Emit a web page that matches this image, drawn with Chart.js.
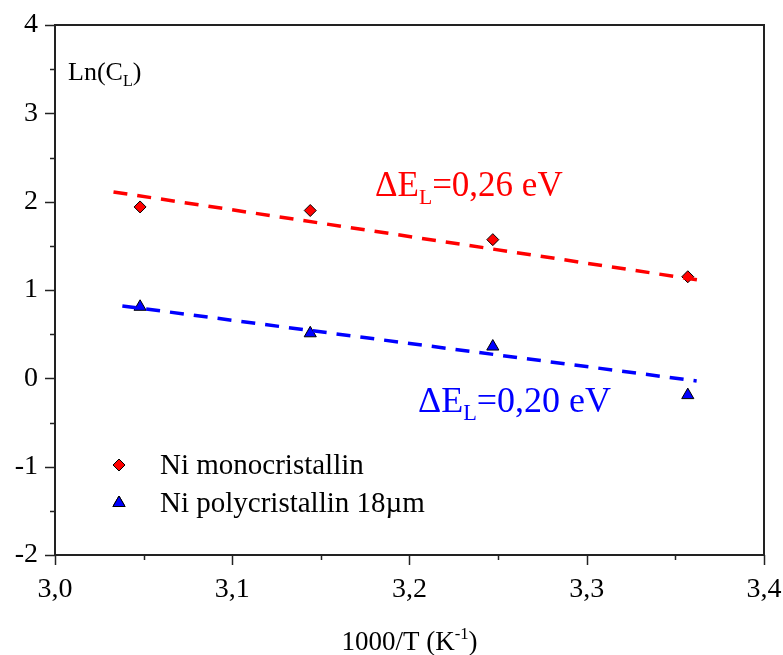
<!DOCTYPE html>
<html>
<head>
<meta charset="utf-8">
<script src="https://cdn.jsdelivr.net/npm/chart.js@4"></script>
<style>
  html, body { margin: 0; padding: 0; background: #fff; }
  #wrap { width: 783px; height: 655px; }
</style>
</head>
<body>
<div id="wrap"><canvas id="LnChart" width="783" height="655"></canvas></div>
<script>
// measured points
const invT = [3.048, 3.144, 3.247, 3.357];
const lnMono = [1.94, 1.90, 1.57, 1.15];
const lnPoly = [0.81, 0.51, 0.36, -0.19];

// fitted lines (end points)
const fitMonoX = [3.033, 3.364];
const fitMonoY = [2.11, 1.11];
const fitPolyX = [3.038, 3.362];
const fitPolyY = [0.82, -0.03];

const xTicks = [3.0, 3.1, 3.2, 3.3, 3.4];
const yTicks = [-2, -1, 0, 1, 2, 3, 4];

const serif = '"Liberation Serif", "DejaVu Serif", serif';

function toPoints(xs, ys) {
  return xs.map((x, i) => ({ x: x, y: ys[i] }));
}

// draws text runs with sub/superscripts, starting at x
function drawRuns(ctx, x, y, runs, size, color) {
  ctx.fillStyle = color;
  ctx.textBaseline = 'alphabetic';
  ctx.textAlign = 'left';
  runs.forEach(r => {
    let s = size, dy = 0;
    if (r.sub) { s = size * 0.62; dy = size * 0.22; }
    if (r.sup) { s = size * 0.62; dy = -size * 0.42; }
    ctx.font = s + 'px ' + serif;
    ctx.fillText(r.t, x, y + dy);
    x += ctx.measureText(r.t).width;
  });
  return x;
}

function runsWidth(ctx, runs, size) {
  let w = 0;
  runs.forEach(r => {
    const s = (r.sub || r.sup) ? size * 0.62 : size;
    ctx.font = s + 'px ' + serif;
    w += ctx.measureText(r.t).width;
  });
  return w;
}

const framePlugin = {
  id: 'frame',
  afterDraw(chart) {
    const ctx = chart.ctx;
    const a = chart.chartArea;
    const xs = chart.scales.x, ys = chart.scales.y;
    ctx.save();
    ctx.strokeStyle = '#222';
    ctx.lineWidth = 2;
    ctx.strokeRect(a.left, a.top, a.right - a.left, a.bottom - a.top);

    ctx.lineWidth = 1.5;
    // x ticks, major + minor, pointing out
    for (let v = 3.0; v <= 3.4001; v += 0.05) {
      const px = Math.round(xs.getPixelForValue(v)) + 0.5;
      const major = Math.abs(v * 10 - Math.round(v * 10)) < 0.01;
      ctx.beginPath();
      ctx.moveTo(px, a.bottom);
      ctx.lineTo(px, a.bottom + (major ? 10 : 5));
      ctx.stroke();
    }
    for (let v = -2; v <= 4.001; v += 0.5) {
      const py = Math.round(ys.getPixelForValue(v)) + 0.5;
      const major = Math.abs(v - Math.round(v)) < 0.01;
      ctx.beginPath();
      ctx.moveTo(a.left, py);
      ctx.lineTo(a.left - (major ? 10 : 5), py);
      ctx.stroke();
    }

    // tick labels
    ctx.fillStyle = '#000';
    ctx.font = '28px ' + serif;
    ctx.textAlign = 'center';
    ctx.textBaseline = 'alphabetic';
    xTicks.forEach(v => {
      ctx.fillText(v.toFixed(1).replace('.', ','), xs.getPixelForValue(v), a.bottom + 42);
    });
    ctx.textAlign = 'right';
    ctx.textBaseline = 'middle';
    yTicks.forEach(v => {
      ctx.fillText(String(v), a.left - 17, ys.getPixelForValue(v));
    });

    // axis titles
    const xTitle = [{ t: '1000/T (K' }, { t: '-1', sup: true }, { t: ')' }];
    const w = runsWidth(ctx, xTitle, 27);
    drawRuns(ctx, (a.left + a.right) / 2 - w / 2, 650, xTitle, 27, '#000');
    drawRuns(ctx, 68, 80, [{ t: 'Ln(C' }, { t: 'L', sub: true }, { t: ')' }], 26, '#000');

    // slope annotations
    drawRuns(ctx, 375, 196, [{ t: '\u0394E' }, { t: 'L', sub: true }, { t: '=0,26 eV' }], 35, '#ff0000');
    drawRuns(ctx, 418, 412, [{ t: '\u0394E' }, { t: 'L', sub: true }, { t: '=0,20 eV' }], 36, '#0000ff');

    // legend
    const items = [
      { label: 'Ni monocristallin', style: 'rectRot', color: '#ff0000', r: 6, y: 465 },
      { label: 'Ni polycristallin 18\u00b5m', style: 'triangle', color: '#0000ff', r: 7, y: 503 }
    ];
    items.forEach(it => {
      ctx.fillStyle = it.color;
      ctx.strokeStyle = '#000';
      ctx.lineWidth = 1;
      Chart.helpers.drawPoint(ctx, { pointStyle: it.style, radius: it.r, borderWidth: 1 }, 119, it.y);
      ctx.fill();
      ctx.stroke();
      ctx.fillStyle = '#000';
      ctx.font = '29px ' + serif;
      ctx.textAlign = 'left';
      ctx.textBaseline = 'middle';
      ctx.fillText(it.label, 160, it.y + 1);
    });
    ctx.restore();
  }
};

new Chart(document.getElementById('LnChart').getContext('2d'), {
  type: 'scatter',
  data: {
    datasets: [
      {
        type: 'line',
        data: toPoints(fitMonoX, fitMonoY),
        borderColor: '#ff0000',
        borderWidth: 3.5,
        borderDash: [14, 10],
        pointRadius: 0,
        fill: false
      },
      {
        type: 'line',
        data: toPoints(fitPolyX, fitPolyY),
        borderColor: '#0000ff',
        borderWidth: 3.5,
        borderDash: [14, 10],
        pointRadius: 0,
        fill: false
      },
      {
        label: 'Ni monocristallin',
        data: toPoints(invT, lnMono),
        pointStyle: 'rectRot',
        pointRadius: 6,
        backgroundColor: '#ff0000',
        borderColor: '#000',
        borderWidth: 1
      },
      {
        label: 'Ni polycristallin 18\u00b5m',
        data: toPoints(invT, lnPoly),
        pointStyle: 'triangle',
        pointRadius: 7,
        backgroundColor: '#0000ff',
        borderColor: '#000',
        borderWidth: 1
      }
    ]
  },
  options: {
    responsive: false,
    animation: false,
    layout: { padding: { left: 55, top: 25, right: 19, bottom: 100 } },
    plugins: {
      legend: { display: false },
      tooltip: { enabled: false }
    },
    scales: {
      x: { type: 'linear', min: 3.0, max: 3.4, display: false },
      y: { type: 'linear', min: -2, max: 4, display: false }
    }
  },
  plugins: [framePlugin]
});
</script>
</body>
</html>
